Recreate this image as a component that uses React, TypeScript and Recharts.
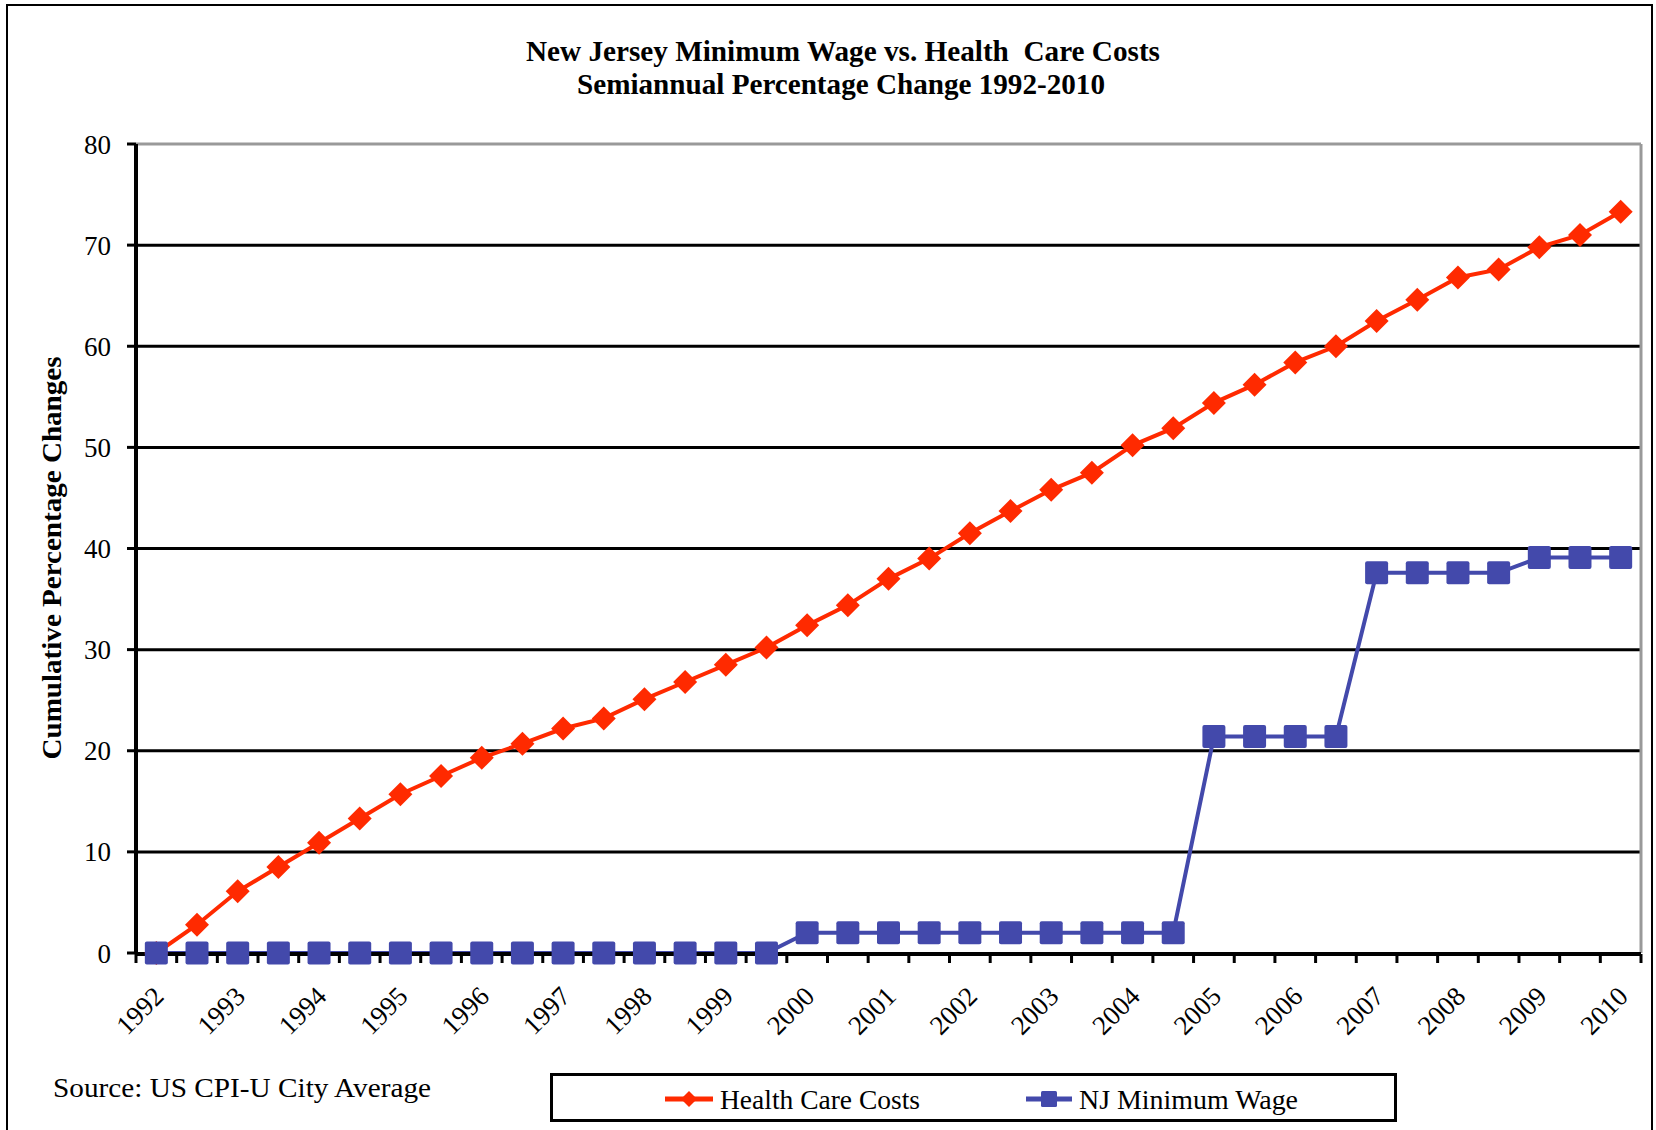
import React from "react";
import {
  LineChart,
  Line,
  XAxis,
  YAxis,
  CartesianGrid,
  ReferenceLine,
  Legend,
} from "recharts";

const FONT = '"Liberation Serif", "Times New Roman", serif';
const RED = "#ff2a00";
const BLUE = "#4349ab";

// semiannual periods, 1992 H1 .. 2010 H1
const periods = [
  "1992 H1", "1992 H2", "1993 H1", "1993 H2", "1994 H1", "1994 H2",
  "1995 H1", "1995 H2", "1996 H1", "1996 H2", "1997 H1", "1997 H2",
  "1998 H1", "1998 H2", "1999 H1", "1999 H2", "2000 H1", "2000 H2",
  "2001 H1", "2001 H2", "2002 H1", "2002 H2", "2003 H1", "2003 H2",
  "2004 H1", "2004 H2", "2005 H1", "2005 H2", "2006 H1", "2006 H2",
  "2007 H1", "2007 H2", "2008 H1", "2008 H2", "2009 H1", "2009 H2",
  "2010 H1",
];

const healthCareCosts = [
  0, 2.8, 6.1, 8.5, 10.9, 13.3, 15.7, 17.5, 19.3, 20.7, 22.2, 23.2, 25.1,
  26.8, 28.5, 30.2, 32.4, 34.4, 37.0, 39.0, 41.5, 43.7, 45.8, 47.5, 50.2,
  51.9, 54.4, 56.2, 58.4, 60.0, 62.5, 64.6, 66.8, 67.6, 69.8, 71.0, 73.3,
];

const njMinimumWage = [
  0, 0, 0, 0, 0, 0, 0, 0, 0, 0, 0, 0, 0, 0, 0, 0,
  2.0, 2.0, 2.0, 2.0, 2.0, 2.0, 2.0, 2.0, 2.0, 2.0,
  21.4, 21.4, 21.4, 21.4,
  37.6, 37.6, 37.6, 37.6,
  39.1, 39.1, 39.1,
];

const yTicks = [0, 10, 20, 30, 40, 50, 60, 70, 80];
const gridValues = [10, 20, 30, 40, 50, 60, 70];

const data = periods.map((period, i) => ({
  idx: i,
  period,
  health: healthCareCosts[i],
  wage: njMinimumWage[i],
}));

const lastIdx = data.length - 1;
// tick marks sit between the points, labels sit on the first half of each year
const boundaryTicks = [...data.map((d) => d.idx - 0.5), lastIdx + 0.5];
const yearTicks = data.filter((d) => d.period.endsWith("H1")).map((d) => d.idx);

const NoLabel = () => <g />;

const YearTick = ({ x, y, payload }: any) => {
  const tx = x + 9;
  const ty = y + 45;
  return (
    <text
      x={tx}
      y={ty}
      transform={`rotate(-45 ${tx} ${ty})`}
      textAnchor="end"
      fontFamily={FONT}
      fontSize={27}
      fill="#000"
    >
      {periods[payload.value].slice(0, 4)}
    </text>
  );
};

const Diamond = (props: any) => {
  const { cx, cy, index } = props;
  if (cx == null || cy == null) return <g key={`d-${index}`} />;
  const r = 12;
  return (
    <path
      key={`d-${index}`}
      d={`M${cx} ${cy - r}L${cx + r} ${cy}L${cx} ${cy + r}L${cx - r} ${cy}Z`}
      fill={RED}
    />
  );
};

const Square = (props: any) => {
  const { cx, cy, index } = props;
  if (cx == null || cy == null) return <g key={`s-${index}`} />;
  const r = 11.5;
  return (
    <rect
      key={`s-${index}`}
      x={cx - r}
      y={cy - r}
      width={r * 2}
      height={r * 2}
      rx={2}
      fill={BLUE}
    />
  );
};

const LegendBox = () => (
  <svg width={847} height={49} style={{ display: "block" }}>
    <rect x={1.5} y={1.5} width={844} height={46} fill="#fff" stroke="#000" strokeWidth={3} />
    <line x1={115} y1={26} x2={163} y2={26} stroke={RED} strokeWidth={5} />
    <path d="M139 18L147 26L139 34L131 26Z" fill={RED} />
    <text x={170} y={36} fontFamily={FONT} fontSize={27} textLength={200} lengthAdjust="spacingAndGlyphs">
      Health Care Costs
    </text>
    <line x1={476} y1={26} x2={522} y2={26} stroke={BLUE} strokeWidth={5} />
    <rect x={491} y={18} width={16} height={16} rx={1.5} fill={BLUE} />
    <text x={529} y={36} fontFamily={FONT} fontSize={27} textLength={219} lengthAdjust="spacingAndGlyphs">
      NJ Minimum Wage
    </text>
  </svg>
);

export default function App() {
  return (
    <div
      style={{
        position: "absolute",
        left: 0,
        top: 0,
        width: 1656,
        height: 1130,
        overflow: "hidden",
        background: "#fff",
      }}
    >
      <div
        style={{
          position: "absolute",
          left: 6,
          top: 4,
          width: 1647,
          height: 1200,
          border: "2px solid #000",
          boxSizing: "border-box",
        }}
      />
      <LineChart
        width={1656}
        height={1130}
        data={data}
        margin={{ top: 144, right: 15, bottom: 175, left: 76 }}
        style={{ position: "absolute", left: 0, top: 0 }}
      >
        <CartesianGrid
          horizontal
          vertical={false}
          horizontalValues={gridValues}
          stroke="#000"
          strokeWidth={3}
          strokeOpacity={1}
        />
        <XAxis
          xAxisId="ticks"
          type="number"
          dataKey="idx"
          domain={[-0.5, lastIdx + 0.5]}
          ticks={boundaryTicks}
          interval={0}
          tick={<NoLabel />}
          tickSize={9}
          tickLine={{ stroke: "#000", strokeWidth: 3 }}
          axisLine={{ stroke: "#000", strokeWidth: 4 }}
          height={1}
        />
        <XAxis
          xAxisId="labels"
          type="number"
          dataKey="idx"
          domain={[-0.5, lastIdx + 0.5]}
          ticks={yearTicks}
          interval={0}
          tick={<YearTick />}
          tickLine={false}
          tickSize={0}
          tickMargin={0}
          axisLine={false}
          height={1}
        />
        <YAxis
          type="number"
          domain={[0, 80]}
          ticks={yTicks}
          interval={0}
          width={60}
          tickSize={9}
          tickMargin={16}
          tickLine={{ stroke: "#000", strokeWidth: 3 }}
          axisLine={{ stroke: "#000", strokeWidth: 4 }}
          tick={{ fontFamily: FONT, fontSize: 27, fill: "#000" }}
        />
        <ReferenceLine xAxisId="ticks" y={80} stroke="#999" strokeWidth={3} />
        <ReferenceLine xAxisId="ticks" x={lastIdx + 0.5} stroke="#999" strokeWidth={3} />
        <Line
          xAxisId="ticks"
          type="linear"
          dataKey="health"
          name="Health Care Costs"
          stroke={RED}
          strokeWidth={4}
          dot={Diamond}
          activeDot={false}
          isAnimationActive={false}
        />
        <Line
          xAxisId="ticks"
          type="linear"
          dataKey="wage"
          name="NJ Minimum Wage"
          stroke={BLUE}
          strokeWidth={4}
          dot={Square}
          activeDot={false}
          isAnimationActive={false}
        />
        <Legend
          layout="horizontal"
          verticalAlign="middle"
          align="center"
          content={<LegendBox />}
          wrapperStyle={{ position: "absolute", left: 550, top: 1073, width: 847, height: 49 }}
        />
      </LineChart>
      <svg
        width={1656}
        height={1130}
        style={{ position: "absolute", left: 0, top: 0, pointerEvents: "none" }}
      >
        <text
          x={843}
          y={61}
          textAnchor="middle"
          fontFamily={FONT}
          fontWeight="bold"
          fontSize={30}
          textLength={634}
          lengthAdjust="spacingAndGlyphs"
          style={{ whiteSpace: "pre" }}
        >
          New Jersey Minimum Wage vs. Health  Care Costs
        </text>
        <text
          x={841}
          y={94}
          textAnchor="middle"
          fontFamily={FONT}
          fontWeight="bold"
          fontSize={30}
          textLength={528}
          lengthAdjust="spacingAndGlyphs"
        >
          Semiannual Percentage Change 1992-2010
        </text>
        <text
          x={61}
          y={558}
          transform="rotate(-90 61 558)"
          textAnchor="middle"
          fontFamily={FONT}
          fontWeight="bold"
          fontSize={28}
          textLength={403}
          lengthAdjust="spacingAndGlyphs"
        >
          Cumulative Percentage Changes
        </text>
        <text
          x={53}
          y={1097}
          fontFamily={FONT}
          fontSize={28}
          textLength={378}
          lengthAdjust="spacingAndGlyphs"
        >
          Source: US CPI-U City Average
        </text>
      </svg>
    </div>
  );
}
